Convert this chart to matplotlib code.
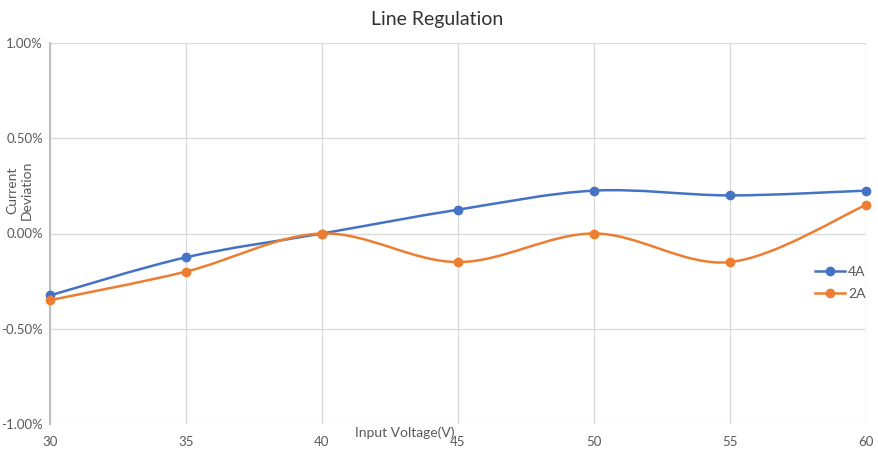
import matplotlib
matplotlib.use("Agg")
import matplotlib.pyplot as plt
from matplotlib.path import Path
from matplotlib.patches import PathPatch
from matplotlib.lines import Line2D
from matplotlib.ticker import FuncFormatter

voltages = [30, 35, 40, 45, 50, 55, 60]
dev_4a = [-0.325, -0.125, 0.0, 0.125, 0.225, 0.20, 0.225]
dev_2a = [-0.35, -0.20, 0.0, -0.15, 0.0, -0.15, 0.15]
series_names = ["4A", "2A"]
colors = ["#4472C4", "#ED7D31"]

plt.rcParams['font.family'] = ['Lato', 'DejaVu Sans']

fig = plt.figure(figsize=(8.79, 4.51), dpi=100)
ax = fig.add_axes([50/879, (451-424)/451, (866-50)/879, (424-43)/451])


def smooth_path(xs, ys):
    verts = [(xs[0], ys[0])]
    codes = [Path.MOVETO]
    n = len(xs)
    for i in range(n - 1):
        x0, y0 = (xs[i-1], ys[i-1]) if i > 0 else (xs[i], ys[i])
        x1, y1 = xs[i], ys[i]
        x2, y2 = xs[i+1], ys[i+1]
        x3, y3 = (xs[i+2], ys[i+2]) if i + 2 < n else (xs[i+1], ys[i+1])
        c1 = (x1 + (x2 - x0) / 6, y1 + (y2 - y0) / 6)
        c2 = (x2 - (x3 - x1) / 6, y2 - (y3 - y1) / 6)
        verts += [c1, c2, (x2, y2)]
        codes += [Path.CURVE4] * 3
    return Path(verts, codes)


handles = []
for name, ys, c in zip(series_names, [dev_4a, dev_2a], colors):
    p = smooth_path(voltages, ys)
    ax.add_patch(PathPatch(p, facecolor='none', edgecolor=c, lw=1.8, zorder=3,
                           clip_on=False))
    ax.plot(voltages, ys, 'o', color=c, ms=6, zorder=4, clip_on=False)
    handles.append(Line2D([], [], color=c, lw=1.8, marker='o', ms=6))

ax.set_xlim(30, 60)
ax.set_ylim(-1.0, 1.0)
ax.set_xticks(voltages)
ax.set_yticks([-1.0, -0.5, 0.0, 0.5, 1.0])
ax.yaxis.set_major_formatter(FuncFormatter(lambda v, p: f"{v:.2f}%"))
ax.grid(True, color="#D9D9D9", lw=0.9)
ax.set_axisbelow(True)
for s in ['top', 'right', 'bottom']:
    ax.spines[s].set_visible(False)
ax.spines['left'].set_color("#BFBFBF")
ax.spines['left'].set_linewidth(1.5)
ax.tick_params(length=0, labelsize=9.5, colors="#595959")
ax.tick_params(axis='x', pad=9)
ax.tick_params(axis='y', pad=5)

fig.text(437/879, 1 - 20/451, "Line Regulation", ha='center', va='center',
         fontsize=14, color="#333333")
fig.text(405/879, 1 - 433/451, "Input Voltage(V)", ha='center', va='center',
         fontsize=10, color="#595959")
fig.text(20/879, 1 - 190/451, "Current\nDeviation", ha='center', va='center',
         rotation=90, fontsize=10, color="#595959", linespacing=1.25)

ax.legend(handles, series_names, loc='center left', bbox_to_anchor=(752/816, 0.37),
          frameon=False, fontsize=10, labelcolor="#595959", handlelength=2.2,
          handletextpad=0.2, labelspacing=0.7)

fig.savefig("out.png", dpi=100)
